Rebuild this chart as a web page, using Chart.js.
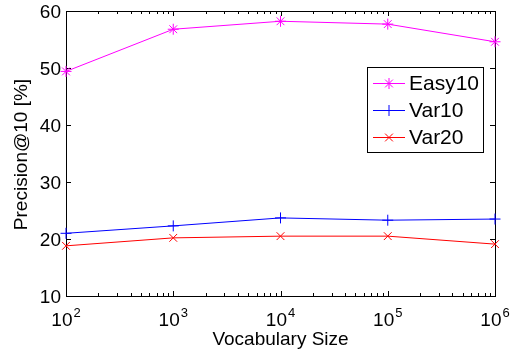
<!DOCTYPE html>
<html>
<head>
<meta charset="utf-8">
<script src="https://cdn.jsdelivr.net/npm/chart.js@4/dist/chart.umd.min.js"></script>
<style>
  html, body { margin: 0; padding: 0; background: #fff; }
  canvas { display: block; }
</style>
</head>
<body>
<canvas id="chart" width="515" height="352"></canvas>
<script>
// values
const vocabSizes = [1e2, 1e3, 1e4, 1e5, 1e6];
const easy10 = [49.4, 56.8, 58.2, 57.7, 54.6];
const var10 = [21.0, 22.3, 23.7, 23.3, 23.5];
const var20 = [18.8, 20.2, 20.5, 20.5, 19.1];
const seriesNames = ['Easy10', 'Var10', 'Var20'];
const yTicks = [10, 20, 30, 40, 50, 60];
const xExponents = [2, 3, 4, 5, 6];
const xTitle = 'Vocabulary Size';
const yTitle = 'Precision@10 [%]';

const FONT = '"Liberation Sans", Arial, Helvetica, sans-serif';

function pts(ys) {
    return vocabSizes.map((x, i) => ({ x: x, y: ys[i] }));
}

// MATLAB style box, inward ticks, tick labels, titles and legend
const matlabAxes = {
    id: 'matlabAxes',
    beforeDatasetsDraw(chart) {
        const ctx = chart.ctx;
        const a = chart.chartArea;
        const xs = chart.scales.x, ys = chart.scales.y;
        ctx.save();
        ctx.strokeStyle = '#000';
        ctx.lineWidth = 1;
        ctx.beginPath();
        // minor + major ticks on x (top and bottom)
        for (let k = 0; k < xExponents.length; k++) {
            const dec = Math.pow(10, xExponents[k]);
            const px = Math.round(xs.getPixelForValue(dec)) + 0.5;
            ctx.moveTo(px, a.bottom); ctx.lineTo(px, a.bottom - 5);
            ctx.moveTo(px, a.top); ctx.lineTo(px, a.top + 5);
            if (k < xExponents.length - 1) {
                for (let m = 2; m <= 9; m++) {
                    const mx = Math.round(xs.getPixelForValue(m * dec)) + 0.5;
                    ctx.moveTo(mx, a.bottom); ctx.lineTo(mx, a.bottom - 3);
                    ctx.moveTo(mx, a.top); ctx.lineTo(mx, a.top + 3);
                }
            }
        }
        yTicks.forEach(v => {
            const py = Math.round(ys.getPixelForValue(v)) + 0.5;
            ctx.moveTo(a.left, py); ctx.lineTo(a.left + 5, py);
            ctx.moveTo(a.right, py); ctx.lineTo(a.right - 5, py);
        });
        ctx.stroke();
        ctx.strokeRect(Math.round(a.left) + 0.5, Math.round(a.top) + 0.5,
            Math.round(a.right - a.left), Math.round(a.bottom - a.top));
        ctx.restore();
    },
    afterDraw(chart) {
        const ctx = chart.ctx;
        const a = chart.chartArea;
        const xs = chart.scales.x, ys = chart.scales.y;
        ctx.save();
        ctx.fillStyle = '#000';

        // y tick labels
        ctx.font = '19px ' + FONT;
        ctx.textAlign = 'right';
        ctx.textBaseline = 'middle';
        yTicks.forEach(v => {
            ctx.fillText(String(v), a.left - 5, ys.getPixelForValue(v) + 1.5);
        });

        // x tick labels 10^n
        ctx.textBaseline = 'alphabetic';
        ctx.textAlign = 'left';
        xExponents.forEach(e => {
            const px = xs.getPixelForValue(Math.pow(10, e));
            ctx.font = '19px ' + FONT;
            const wb = ctx.measureText('10').width;
            ctx.font = '13px ' + FONT;
            const we = ctx.measureText(String(e)).width;
            const x0 = px - (wb + we + 1) / 2;
            ctx.font = '19px ' + FONT;
            ctx.fillText('10', x0, 326);
            ctx.font = '13px ' + FONT;
            ctx.fillText(String(e), x0 + wb + 1, 317);
        });

        // axis titles
        ctx.font = '19px ' + FONT;
        ctx.textAlign = 'center';
        ctx.fillText(xTitle, (a.left + a.right) / 2, 345);
        ctx.save();
        ctx.translate(27, (a.top + a.bottom) / 2 + 1);
        ctx.rotate(-Math.PI / 2);
        ctx.fillText(yTitle, 0, 0);
        ctx.restore();

        // legend box
        const lx = 367, ly = 67, lw = 116, lh = 85;
        ctx.fillStyle = '#fff';
        ctx.fillRect(lx, ly, lw, lh);
        ctx.strokeStyle = '#000';
        ctx.lineWidth = 1;
        ctx.strokeRect(lx + 0.5, ly + 0.5, lw, lh);
        const rows = [83, 110, 137];
        chart.data.datasets.forEach((ds, i) => {
            const y = rows[i];
            ctx.strokeStyle = ds.borderColor;
            ctx.lineWidth = 1;
            ctx.beginPath();
            ctx.moveTo(373, y + 0.5); ctx.lineTo(405, y + 0.5);
            ctx.stroke();
            Chart.helpers.drawPoint(ctx, {
                pointStyle: ds.pointStyle, radius: ds.pointRadius,
                borderWidth: 1, rotation: 0
            }, 389, y + 0.5);
            ctx.fillStyle = '#000';
            ctx.font = '21px ' + FONT;
            ctx.textAlign = 'left';
            ctx.textBaseline = 'middle';
            ctx.fillText(ds.label, 409, y + 1.5);
        });
        ctx.restore();
    }
};

const colors = ['#ff00ff', '#0000ff', '#ff0000'];
const styles = ['star', 'cross', 'crossRot'];
const seriesValues = [easy10, var10, var20];

new Chart(document.getElementById('chart'), {
    type: 'line',
    data: {
        datasets: seriesNames.map((name, i) => ({
            label: name,
            data: pts(seriesValues[i]),
            borderColor: colors[i],
            backgroundColor: colors[i],
            borderWidth: 1,
            pointStyle: styles[i],
            pointRadius: 5.5,
            pointBorderWidth: 1,
            pointHoverRadius: 5.5,
            tension: 0,
            clip: false
        }))
    },
    options: {
        responsive: false,
        animation: false,
        events: [],
        layout: { padding: { left: 66, top: 11, right: 20, bottom: 56 } },
        scales: {
            x: { type: 'logarithmic', min: 1e2, max: 1e6, display: false },
            y: { type: 'linear', min: 10, max: 60, display: false }
        },
        plugins: {
            legend: { display: false },
            tooltip: { enabled: false }
        }
    },
    plugins: [matlabAxes]
});
</script>
</body>
</html>
